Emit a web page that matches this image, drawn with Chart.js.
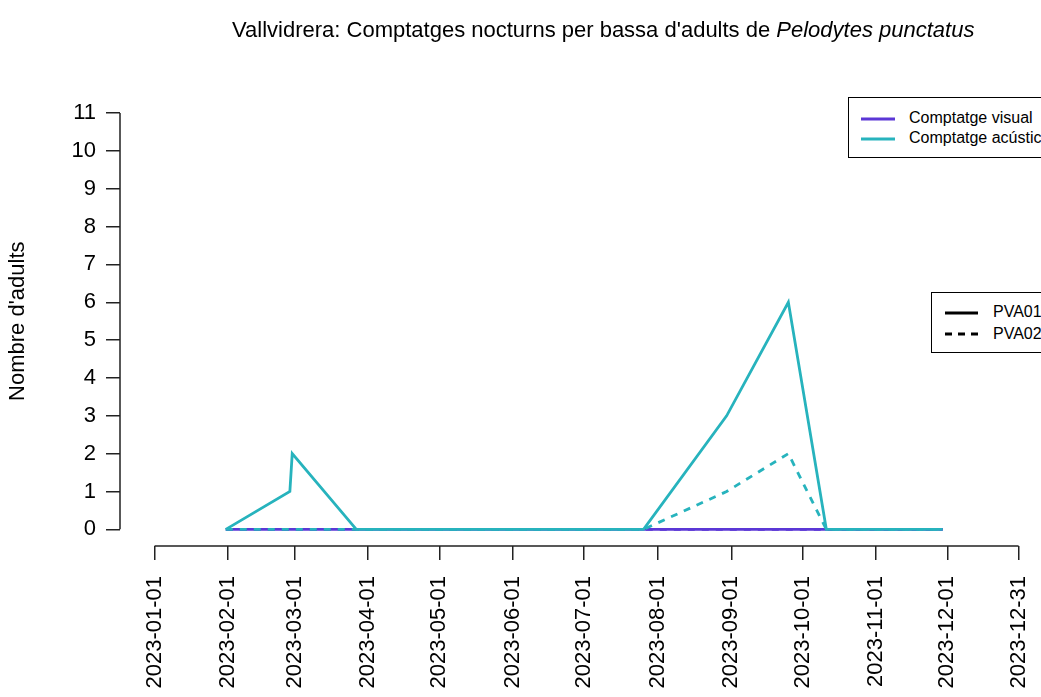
<!DOCTYPE html>
<html>
<head>
<meta charset="utf-8">
<script src="https://cdn.jsdelivr.net/npm/chart.js@4/dist/chart.umd.min.js"></script>
<style>
  html, body { margin: 0; padding: 0; background: #fff; overflow: hidden; }
  #wrap { position: relative; width: 1061px; height: 697px; font-family: "Liberation Sans", Arial, sans-serif; }
  #title { position: absolute; left: 232px; top: 19px; font-size: 22px; line-height: 22px; white-space: nowrap; color: #000; }
  .legend { position: absolute; border: 1px solid #000; background: #fff; font-size: 16px; color: #000; }
  .legend .row { position: absolute; white-space: nowrap; line-height: 16px; }
  .legend svg { position: absolute; }
</style>
</head>
<body>
<div id="wrap">
  <canvas id="chart" width="1061" height="697"></canvas>
  <div id="title">Vallvidrera: Comptatges nocturns per bassa d'adults de <i>Pelodytes punctatus</i></div>

  <div class="legend" style="left:848px; top:97px; width:220px; height:59px;">
    <svg style="left:12px; top:19px;" width="36" height="4"><line x1="0" y1="2" x2="34" y2="2" stroke="#5b37d6" stroke-width="3"/></svg>
    <div class="row" style="left:60px; top:12px;">Comptatge visual</div>
    <svg style="left:12px; top:39px;" width="36" height="4"><line x1="0" y1="2" x2="34" y2="2" stroke="#27b3bd" stroke-width="3"/></svg>
    <div class="row" style="left:60px; top:32px;">Comptatge acústic</div>
  </div>

  <div class="legend" style="left:931px; top:292px; width:140px; height:59px;">
    <svg style="left:13px; top:18px;" width="36" height="4"><line x1="0" y1="2" x2="33" y2="2" stroke="#000" stroke-width="3"/></svg>
    <div class="row" style="left:61px; top:11px;">PVA01</div>
    <svg style="left:13px; top:39px;" width="36" height="4"><line x1="0" y1="2" x2="33" y2="2" stroke="#000" stroke-width="3" stroke-dasharray="7,6"/></svg>
    <div class="row" style="left:61px; top:33px;">PVA02</div>
  </div>
</div>

<script>
// survey dates (shared by all four series)
const dates = ['2023-01-31', '2023-02-27', '2023-02-28', '2023-03-27', '2023-07-26',
               '2023-08-30', '2023-09-25', '2023-10-11', '2023-11-29'];
const visualPVA01 = [0, 0, 0, 0, 0, 0, 0, 0, 0];
const visualPVA02 = [0, 0, 0, 0, 0, 0, 0, 0, 0];
const acusticPVA01 = [0, 1, 2, 0, 0, 3, 6, 0, 0];
const acusticPVA02 = [0, 0, 0, 0, 0, 1, 2, 0, 0];

const xTickDates = ['2023-01-01', '2023-02-01', '2023-03-01', '2023-04-01', '2023-05-01', '2023-06-01',
                    '2023-07-01', '2023-08-01', '2023-09-01', '2023-10-01', '2023-11-01', '2023-12-01', '2023-12-31'];
const yTicks = [0, 1, 2, 3, 4, 5, 6, 7, 8, 9, 10, 11];

const PURPLE = '#5b37d6';
const CYAN = '#27b3bd';

// day of year, 2023-01-01 = 0
const dayOf = d => (Date.parse(d) - Date.parse('2023-01-01')) / 86400000;
const pts = vals => dates.map((d, i) => ({ x: dayOf(d), y: vals[i] }));

const xFirst = dayOf(xTickDates[0]);
const xLast = dayOf(xTickDates[xTickDates.length - 1]);
const xPad = (xLast - xFirst) * 0.04;   // R style 4% axis extension
const yPad = (yTicks[yTicks.length - 1] - yTicks[0]) * 0.04;

// R style detached axis lines, spanning first..last tick
const rAxes = {
  id: 'rAxes',
  afterDraw(chart) {
    const { ctx, scales: { x, y } } = chart;
    ctx.save();
    ctx.strokeStyle = '#222';
    ctx.lineWidth = 1.5;
    ctx.beginPath();
    ctx.moveTo(x.getPixelForValue(x.ticks[0].value), x.top);
    ctx.lineTo(x.getPixelForValue(x.ticks[x.ticks.length - 1].value), x.top);
    ctx.moveTo(y.right, y.getPixelForValue(y.ticks[0].value));
    ctx.lineTo(y.right, y.getPixelForValue(y.ticks[y.ticks.length - 1].value));
    ctx.stroke();
    ctx.restore();
  }
};

const line = (vals, color, dash, order) => ({
  data: pts(vals),
  borderColor: color,
  borderWidth: 2.8,
  borderDash: dash,
  pointRadius: 0,
  tension: 0,
  fill: false,
  order
});

new Chart(document.getElementById('chart'), {
  type: 'line',
  data: {
    datasets: [
      line(visualPVA02, PURPLE, [7, 7], 4),
      line(visualPVA01, PURPLE, [], 3),
      line(acusticPVA01, CYAN, [], 2),
      line(acusticPVA02, CYAN, [7, 7], 1)
    ]
  },
  options: {
    responsive: false,
    animation: false,
    devicePixelRatio: 1,
    layout: { padding: { top: 96.4, left: 0, right: 0, bottom: 0 } },
    plugins: { legend: { display: false }, tooltip: { enabled: false } },
    scales: {
      x: {
        type: 'linear',
        min: xFirst - xPad,
        max: xLast + xPad,
        afterFit: s => { s.height = 151; },
        afterBuildTicks: s => { s.ticks = xTickDates.map(d => ({ value: dayOf(d) })); },
        border: { display: false },
        grid: { drawOnChartArea: false, drawTicks: true, tickLength: 14, color: '#222', lineWidth: 1.5 },
        ticks: {
          autoSkip: false,
          minRotation: 90,
          maxRotation: 90,
          padding: 16,
          color: '#000',
          font: { family: 'Liberation Sans', size: 22 },
          callback: (v, i) => xTickDates[i]
        }
      },
      y: {
        min: yTicks[0] - yPad,
        max: yTicks[yTicks.length - 1] + yPad,
        afterFit: s => { s.width = 120; },
        afterBuildTicks: s => { s.ticks = yTicks.map(v => ({ value: v })); },
        border: { display: false },
        grid: { drawOnChartArea: false, drawTicks: true, tickLength: 14, color: '#222', lineWidth: 1.5 },
        ticks: {
          padding: 10,
          color: '#000',
          font: { family: 'Liberation Sans', size: 22 },
          callback: (v, i) => String(yTicks[i])
        },
        title: {
          display: true,
          text: "Nombre d'adults",
          color: '#000',
          font: { family: 'Liberation Sans', size: 22 },
          padding: { top: 5, bottom: 0 }
        }
      }
    }
  },
  plugins: [rAxes]
});
</script>
</body>
</html>
